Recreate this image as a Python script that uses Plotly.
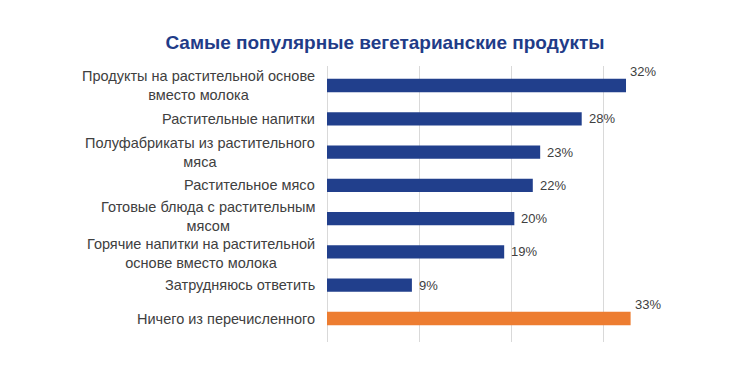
import plotly.graph_objects as go

categories = [
    "Продукты на растительной основе<br>вместо молока",
    "Растительные напитки",
    "Полуфабрикаты из растительного<br>мяса",
    "Растительное мясо",
    "Готовые блюда с растительным<br>мясом",
    "Горячие напитки на растительной<br>основе вместо молока",
    "Затрудняюсь ответить",
    "Ничего из перечисленного",
]
values = [32.4, 27.6, 23.1, 22.3, 20.3, 19.2, 9.2, 32.9]
value_labels = ["32%", "28%", "23%", "22%", "20%", "19%", "9%", "33%"]
title_text = "Самые популярные вегетарианские продукты"

BLUE = "#213F8C"
ORANGE = "#ED7D31"
colors = [ORANGE if c == "Ничего из перечисленного" else BLUE for c in categories]

FONT = "Liberation Sans, Arial, sans-serif"

fig = go.Figure(go.Bar(
    x=values, y=categories, orientation="h",
    marker=dict(color=colors, line=dict(width=0)),
    hoverinfo="skip",
))

multi = ["<br>" in c for c in categories]
annotations = []
for i, c in enumerate(categories):
    ys = 0
    if multi[i] and i > 0 and multi[i - 1]:
        ys -= 2
    if multi[i] and i + 1 < len(categories) and multi[i + 1]:
        ys += 2
    annotations.append(dict(
        x=0, xref="paper", y=c, yref="y", text=c, showarrow=False,
        xanchor="right", yanchor="middle", align="center", xshift=-10,
        yshift=ys,
        font=dict(family=FONT, size=14.5, color="#404040"),
    ))
for c, v, t in zip(categories, values, value_labels):
    high = v > 30
    annotations.append(dict(
        x=v, y=c, xref="x", yref="y", text=t, showarrow=False,
        xanchor="left", yanchor="middle",
        xshift=2 if high else 5, yshift=14 if high else 0,
        font=dict(family=FONT, size=13, color="#404040"),
    ))

fig.update_layout(
    width=740, height=392,
    margin=dict(l=319, r=98, t=58, b=58),
    paper_bgcolor="white", plot_bgcolor="white",
    bargap=0.6,
    showlegend=False,
    title=dict(text="<b>" + title_text + "</b>", x=377/740, xanchor="center",
               y=1 - 34/392, yanchor="middle",
               font=dict(family=FONT, size=19, color="#1F3C88")),
    xaxis=dict(range=[0, 35], dtick=10, showgrid=True, gridcolor="#D9D9D9",
               gridwidth=1, showticklabels=False, zeroline=True,
               zerolinecolor="#D9D9D9", zerolinewidth=1, showline=False, ticks=""),
    yaxis=dict(autorange="reversed", showticklabels=False, showgrid=False,
               showline=False, ticks=""),
    annotations=annotations,
)

fig.write_html("out.html")
